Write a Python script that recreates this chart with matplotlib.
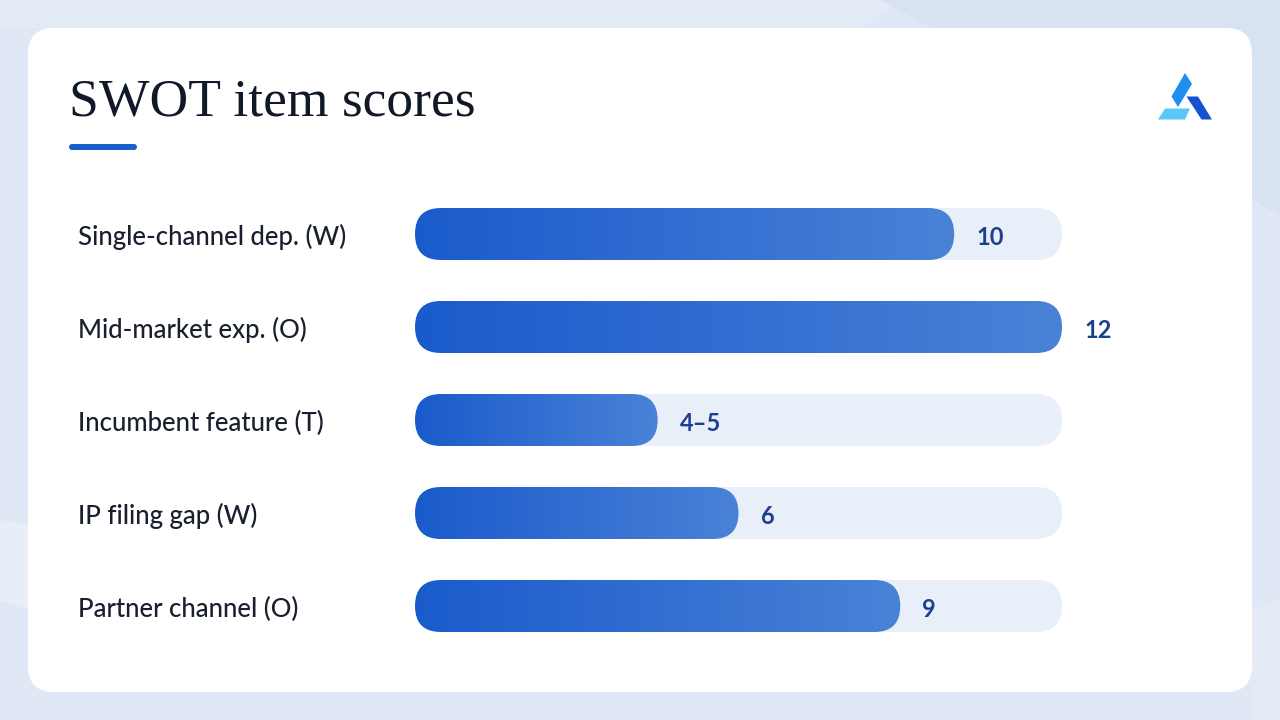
import matplotlib
matplotlib.use("Agg")
import matplotlib.pyplot as plt
import numpy as np
from matplotlib.patches import FancyBboxPatch, Polygon
from matplotlib.colors import LinearSegmentedColormap
import matplotlib.transforms as mtransforms

# data
items = ["Single-channel dep. (W)", "Mid-market exp. (O)", "Incumbent feature (T)",
         "IP filing gap (W)", "Partner channel (O)"]
scores = [10, 12, 4.5, 6, 9]
score_labels = ["10", "12", "4\u20135", "6", "9"]
max_score = 12
title = "SWOT item scores"

W, H = 1280, 720
fig = plt.figure(figsize=(12.8, 7.2), dpi=100)
fig.patch.set_facecolor("#dfe8f4")

# background / decoration layer in pixel coords
bg = fig.add_axes([0, 0, 1, 1])
bg.set_xlim(0, W)
bg.set_ylim(H, 0)
bg.axis("off")
bg.add_patch(Polygon([(0, 0), (900, 0), (860, 28), (0, 28)], closed=True,
                     facecolor="#e3ebf6", edgecolor="none"))
bg.add_patch(Polygon([(880, 0), (1280, 0), (1280, 215), (1252, 200)], closed=True,
                     facecolor="#d8e3f2", edgecolor="none"))
bg.add_patch(Polygon([(0, 520), (28, 525), (28, 610), (0, 600)], closed=True,
                     facecolor="#e8eef8", edgecolor="none"))
bg.add_patch(Polygon([(1252, 610), (1280, 600), (1280, 720), (1252, 720)], closed=True,
                     facecolor="#e4ebf6", edgecolor="none"))

card = FancyBboxPatch((28, 28), 1224, 664, boxstyle="round,pad=0,rounding_size=26",
                      facecolor="white", edgecolor="none")
bg.add_patch(card)

bg.text(69, 115, title, fontsize=38.5, family="Liberation Serif", color="#111827",
        ha="left", va="baseline")
bg.add_patch(FancyBboxPatch((69, 144), 68, 6, boxstyle="round,pad=0,rounding_size=3",
                            facecolor="#1a5fd0", edgecolor="none"))

# logo
bg.add_patch(Polygon([(1185, 73), (1192, 84), (1178, 107), (1171.5, 96.5)],
                     facecolor="#1e8ff0", edgecolor="none"))
bg.add_patch(Polygon([(1158, 119.5), (1165, 108.5), (1190, 108.5), (1185, 119.5)],
                     facecolor="#5ac8f7", edgecolor="none"))
bg.add_patch(Polygon([(1186.5, 96.5), (1198, 96.5), (1212, 119.5), (1201.5, 119.5)],
                     facecolor="#1652d0", edgecolor="none"))

# bar chart axes: x 415..1062 px, rows 93 px apart starting at y=234
step = 93
top_px = 234 - step / 2
n = len(items)
ax = fig.add_axes([415 / W, 1 - (top_px + n * step) / H, 647 / W, n * step / H])
ax.set_xlim(0, max_score)
ax.set_ylim(n - 0.5, -0.5)
ax.axis("off")

px_x = 647 / max_score
px_y = step
bar_h = 52 / step
r = 26 / px_x
aspect = px_x / px_y

cmap = LinearSegmentedColormap.from_list("bar", ["#1a5bcc", "#4a82d7"])
grad = np.linspace(0, 1, 256).reshape(1, -1)

for i, (v, lab) in enumerate(zip(scores, score_labels)):
    track = FancyBboxPatch((0, i - bar_h / 2), max_score, bar_h,
                           boxstyle="round,pad=0,rounding_size=%f" % r,
                           mutation_aspect=aspect,
                           facecolor="#e8eff9", edgecolor="none")
    ax.add_patch(track)
    bar = FancyBboxPatch((0, i - bar_h / 2), v, bar_h,
                         boxstyle="round,pad=0,rounding_size=%f" % r,
                         mutation_aspect=aspect,
                         facecolor="none", edgecolor="none")
    ax.add_patch(bar)
    im = ax.imshow(grad, cmap=cmap, aspect="auto",
                   extent=[0, v, i + bar_h / 2, i - bar_h / 2], zorder=2)
    im.set_clip_path(bar)
    ax.annotate(lab, (v, i), xytext=(16, -2.5), textcoords="offset points",
                ha="left", va="center", fontsize=17, fontweight="bold",
                family="Lato", color="#1d3f8f")

ax.set_xlim(0, max_score)
ax.set_ylim(n - 0.5, -0.5)

lab_tr = mtransforms.blended_transform_factory(fig.transFigure, ax.transData)
lab_tr = lab_tr + mtransforms.ScaledTranslation(0, -3 / 100, fig.dpi_scale_trans)
for i, name in enumerate(items):
    ax.text(78 / W, i, name, transform=lab_tr, ha="left", va="center",
            fontsize=18.5, fontweight="medium", family="Lato", color="#1a1f2e")

fig.savefig("out.png", dpi=100, facecolor=fig.get_facecolor())
